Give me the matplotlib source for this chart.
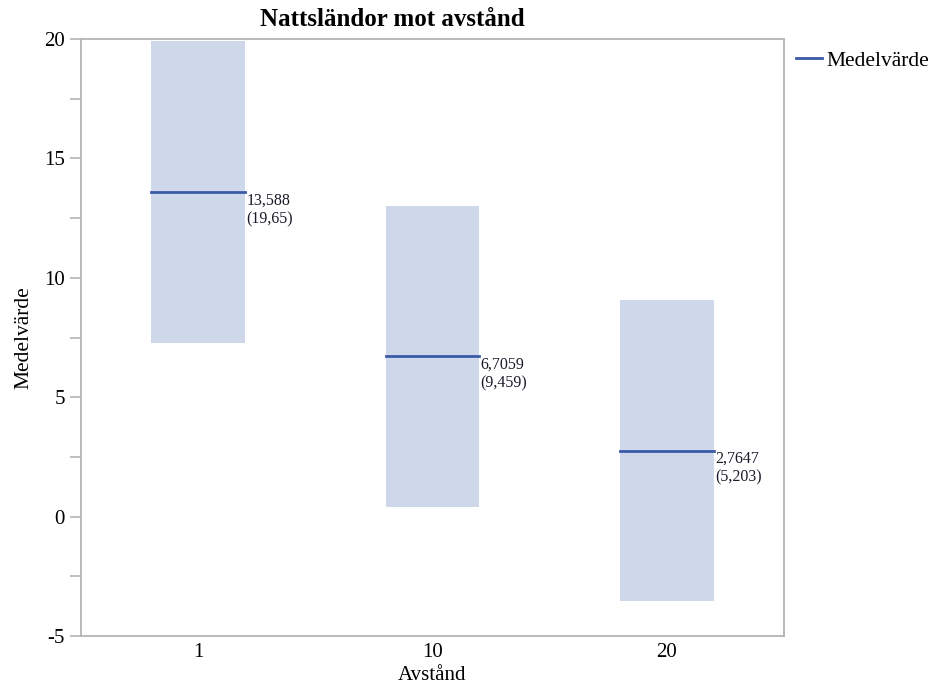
import matplotlib
matplotlib.use("Agg")
from matplotlib import pyplot as plt
from matplotlib.ticker import MultipleLocator

categories = ["1", "10", "20"]
means = [13.588, 6.7059, 2.7647]
mean_labels = ["13,588", "6,7059", "2,7647"]
sd_labels = ["(19,65)", "(9,459)", "(5,203)"]
lower = [7.27, 0.40, -3.55]
upper = [19.92, 13.00, 9.07]

BAND = "#cfd8ea"
LINE = "#3b5aa6"
GREY = "#b4b4b4"

plt.rcParams["font.family"] = ["Liberation Serif", "DejaVu Serif"]
plt.rcParams["axes.unicode_minus"] = False

fig = plt.figure(figsize=(9.29, 6.86), dpi=100)
ax = fig.add_axes([0.0872, 0.0729, 0.7567, 0.8702])

width = 0.4
for i, (m, lo, hi) in enumerate(zip(means, lower, upper)):
    ax.bar(i, hi - lo, bottom=lo, width=width, color=BAND, linewidth=0)
    ax.plot([i - width / 2, i + width / 2], [m, m], color=LINE, lw=2,
            label="Medelvärde" if i == 0 else None)
    ax.text(i + width / 2 + 0.005, m, mean_labels[i] + "\n" + sd_labels[i],
            ha="left", va="top", fontsize=11.5, color="#1a1a2a",
            linespacing=1.25)

ax.set_xlim(-0.5, 2.5)
ax.set_ylim(-5, 20)
ax.set_xticks(range(len(categories)))
ax.set_xticklabels(categories)
ax.yaxis.set_major_locator(MultipleLocator(5))
ax.yaxis.set_minor_locator(MultipleLocator(2.5))
ax.tick_params(axis="y", which="both", direction="out", color=GREY,
               labelsize=15, width=1.2, length=8)
ax.tick_params(axis="x", length=0, labelsize=15, pad=5)
for s in ax.spines.values():
    s.set_color(GREY)
    s.set_linewidth(1.3)

ax.set_xlabel("Avstånd", fontsize=15, labelpad=3)
ax.set_ylabel("Medelvärde", fontsize=15.5, labelpad=8)
fig.text(392 / 929, 1 - 20 / 686, "Nattsländor mot avstånd", ha="center",
         va="center", fontsize=18, fontweight="bold")

ax.legend(loc="upper left", bbox_to_anchor=(1.0, 1.0), frameon=False,
          fontsize=15.5, handlelength=1.2, handletextpad=0.2,
          borderaxespad=0.35, borderpad=0.2)

fig.savefig("out.png", dpi=100)
